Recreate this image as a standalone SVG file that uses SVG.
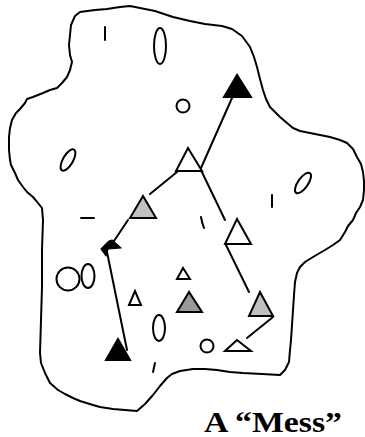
<svg xmlns="http://www.w3.org/2000/svg" width="365" height="437" viewBox="0 0 365 437">
<style>
.o{fill:none;stroke:#000;stroke-width:2;stroke-linejoin:round;stroke-linecap:round}
.t{stroke:#000;stroke-width:2;stroke-linejoin:miter}
.w{fill:#fff}.k{fill:#000}.g{fill:#c0c0c0}.d{fill:#999}
.c{stroke:#000;stroke-width:2;fill:none;stroke-linecap:round}
.lbl{font-family:"Liberation Serif","Times New Roman",serif;font-weight:bold;font-size:29px;fill:#000}
</style>
<rect width="365" height="437" fill="#fff"/>
<g id="blob">
<path class="o" d="M80,12 L95,10 L107,9 L120,7 L130,6 L140,8 L155,11 L173,17 L190,21 L205,24 L222,26 L232,29 L242,36 L250,47 L254,57 L257,67 L260,79 L263,90 L266,99 L270,107 L275,112 L280,117 L287,123 L293,128 L300,131 L310,133 L320,135 L330,137 L340,140 L347,143 L353,149 L357,157 L361,164 L363,172 L364,181 L364,190 L363,200 L360,207 L356,213 L353,220 L348,226 L345,232 L340,240 L333,245 L325,250 L313,257 L305,262 L300,267 L297,273 L295,282 L294,295 L293,310 L292,325 L291,340 L290,350 L289,362 L285,370 L280,375 L262,374 L243,373 L230,372 L217,370 L205,369 L193,369 L180,371 L172,374 L167,378 L160,386 L153,395 L145,404 L137,411 L125,410 L113,409 L100,407 L93,405 L80,401 L73,398 L65,394 L58,390 L50,383 L45,373 L41,363 L40,353 L41,320 L42,287 L42,250 L43,220 L42,208 L38,203 L33,197 L27,192 L23,187 L18,180 L15,173 L11,165 L10,160 L9,150 L9,137 L10,128 L12,120 L16,113 L20,109 L25,103 L27,99 L33,97 L38,95 L43,93 L50,90 L57,88 L62,83 L67,77 L70,70 L72,62 L70,55 L69,45 L70,35 L71,25 L75,16 Z"/>
</g>
<g id="clutter">
<line class="c" x1="105" y1="27" x2="105" y2="40"/>
<ellipse class="o" cx="160" cy="46" rx="6" ry="18"/>
<circle class="o" cx="183" cy="106" r="6.5"/>
<ellipse class="o" cx="68" cy="160" rx="5" ry="12" transform="rotate(30 68 160)"/>
<ellipse class="o" cx="303" cy="183" rx="5" ry="12" transform="rotate(35 303 183)"/>
<line class="c" x1="272" y1="195" x2="272" y2="207"/>
<line class="c" x1="81" y1="218" x2="94" y2="218"/>
<path class="c" d="M201,217 Q202,223 204,228"/>
<ellipse class="o" cx="68" cy="279" rx="11.5" ry="11.5"/>
<ellipse class="o" cx="88" cy="276" rx="6.5" ry="12"/>
<ellipse class="o" cx="159" cy="328" rx="6" ry="13"/>
<circle class="o" cx="207" cy="346" r="6.5"/>
<line class="c" x1="155" y1="363" x2="153" y2="372"/>
</g>
<g id="connectors">
<line class="c" x1="232" y1="98" x2="201" y2="168"/>
<line class="c" x1="177" y1="172" x2="150" y2="194"/>
<line class="c" x1="200" y1="168" x2="225" y2="220"/>
<line class="c" x1="128" y1="220" x2="112" y2="244"/>
<path d="M101,249 L109,241 L112,240 L121,248 L108,249 L106,256 Z" fill="#000" stroke="#000" stroke-width="1.2" stroke-linejoin="round"/>
<line class="c" x1="107" y1="252" x2="127" y2="350"/>
<line class="c" x1="226" y1="245" x2="249" y2="292"/>
<line class="c" x1="273" y1="317" x2="247" y2="338"/>
</g>
<g id="tri-black-top"><polygon class="t k" points="237,75 224,97 251,97"/></g>
<g id="tri-white-top"><polygon class="t w" points="188,148 176,171 202,171"/></g>
<g id="tri-gray-left"><polygon class="t g" points="143,196 130,218 156,218"/></g>
<g id="tri-white-right"><polygon class="t w" points="237,219 225,244 251,244"/></g>
<g id="tri-gray-right"><polygon class="t g" points="260,292 249,316 273,316"/></g>
<g id="tri-flat"><polygon class="t w" points="237,340 225,351 251,351"/></g>
<g id="tri-small-1"><polygon class="t w" points="183,268 177,279 190,279"/></g>
<g id="tri-small-2"><polygon class="t w" points="135,291 129,305 141,305"/></g>
<g id="tri-dark"><polygon class="t d" points="189,292 177,312 202,312"/></g>
<g id="tri-black-bottom"><polygon class="t k" points="118,339 106,360 130,360"/></g>
<g id="label"><text class="lbl" x="204" y="432" textLength="138" lengthAdjust="spacingAndGlyphs">A “Mess”</text></g>
</svg>
